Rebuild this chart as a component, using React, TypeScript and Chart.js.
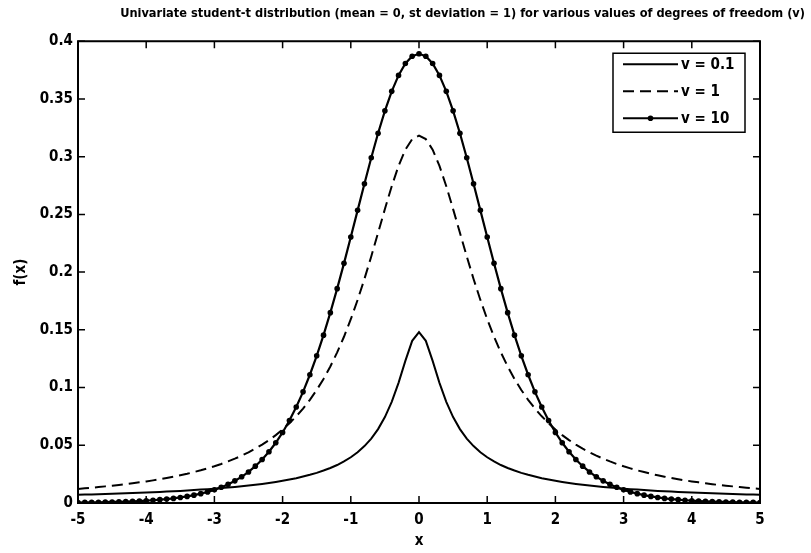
import React, { useEffect, useRef } from "react";
import { Chart, registerables } from "chart.js";

Chart.register(...registerables);

const titleText =
  "Univariate student-t distribution (mean = 0, st deviation = 1) for various values of degrees of freedom (v)";
const xAxisLabel = "x";
const yAxisLabel = "f(x)";
const seriesLabels = ["v = 0.1", "v = 1", "v = 10"];

const xValues = [
  -5, -4.9, -4.8, -4.7, -4.6, -4.5, -4.4, -4.3, -4.2, -4.1,
  -4, -3.9, -3.8, -3.7, -3.6, -3.5, -3.4, -3.3, -3.2, -3.1,
  -3, -2.9, -2.8, -2.7, -2.6, -2.5, -2.4, -2.3, -2.2, -2.1,
  -2, -1.9, -1.8, -1.7, -1.6, -1.5, -1.4, -1.3, -1.2, -1.1,
  -1, -0.9, -0.8, -0.7, -0.6, -0.5, -0.4, -0.3, -0.2, -0.1,
  0,
  0.1, 0.2, 0.3, 0.4, 0.5, 0.6, 0.7, 0.8, 0.9, 1,
  1.1, 1.2, 1.3, 1.4, 1.5, 1.6, 1.7, 1.8, 1.9, 2,
  2.1, 2.2, 2.3, 2.4, 2.5, 2.6, 2.7, 2.8, 2.9, 3,
  3.1, 3.2, 3.3, 3.4, 3.5, 3.6, 3.7, 3.8, 3.9, 4,
  4.1, 4.2, 4.3, 4.4, 4.5, 4.6, 4.7, 4.8, 4.9, 5,
];

const nu01 = [
  0.0071, 0.0073, 0.0074, 0.0076, 0.0078, 0.0080, 0.0082, 0.0084, 0.0086, 0.0088,
  0.0091, 0.0093, 0.0096, 0.0099, 0.0102, 0.0105, 0.0108, 0.0112, 0.0116, 0.0120,
  0.0124, 0.0129, 0.0134, 0.0139, 0.0145, 0.0151, 0.0158, 0.0165, 0.0173, 0.0182,
  0.0192, 0.0203, 0.0215, 0.0229, 0.0244, 0.0261, 0.0281, 0.0303, 0.0329, 0.0360,
  0.0396, 0.0440, 0.0493, 0.0558, 0.0640, 0.0744, 0.0876, 0.1041, 0.1231, 0.1405,
  0.1481,
  0.1405, 0.1231, 0.1041, 0.0876, 0.0744, 0.0640, 0.0558, 0.0493, 0.0440, 0.0396,
  0.0360, 0.0329, 0.0303, 0.0281, 0.0261, 0.0244, 0.0229, 0.0215, 0.0203, 0.0192,
  0.0182, 0.0173, 0.0165, 0.0158, 0.0151, 0.0145, 0.0139, 0.0134, 0.0129, 0.0124,
  0.0120, 0.0116, 0.0112, 0.0108, 0.0105, 0.0102, 0.0099, 0.0096, 0.0093, 0.0091,
  0.0088, 0.0086, 0.0084, 0.0082, 0.0080, 0.0078, 0.0076, 0.0074, 0.0073, 0.0071,
];

const nu1 = [
  0.0122, 0.0127, 0.0132, 0.0138, 0.0144, 0.0150, 0.0156, 0.0163, 0.0171, 0.0179,
  0.0187, 0.0196, 0.0206, 0.0217, 0.0228, 0.0240, 0.0253, 0.0268, 0.0283, 0.0300,
  0.0318, 0.0338, 0.0360, 0.0384, 0.0410, 0.0439, 0.0471, 0.0506, 0.0545, 0.0588,
  0.0637, 0.0691, 0.0751, 0.0818, 0.0894, 0.0979, 0.1075, 0.1183, 0.1305, 0.1440,
  0.1592, 0.1759, 0.1941, 0.2136, 0.2341, 0.2546, 0.2744, 0.2920, 0.3061, 0.3152,
  0.3183,
  0.3152, 0.3061, 0.2920, 0.2744, 0.2546, 0.2341, 0.2136, 0.1941, 0.1759, 0.1592,
  0.1440, 0.1305, 0.1183, 0.1075, 0.0979, 0.0894, 0.0818, 0.0751, 0.0691, 0.0637,
  0.0588, 0.0545, 0.0506, 0.0471, 0.0439, 0.0410, 0.0384, 0.0360, 0.0338, 0.0318,
  0.0300, 0.0283, 0.0268, 0.0253, 0.0240, 0.0228, 0.0217, 0.0206, 0.0196, 0.0187,
  0.0179, 0.0171, 0.0163, 0.0156, 0.0150, 0.0144, 0.0138, 0.0132, 0.0127, 0.0122,
];

const nu10 = [
  0.0004, 0.0005, 0.0005, 0.0006, 0.0008, 0.0009, 0.0010, 0.0012, 0.0015, 0.0017,
  0.0020, 0.0024, 0.0029, 0.0034, 0.0040, 0.0048, 0.0057, 0.0068, 0.0081, 0.0096,
  0.0114, 0.0136, 0.0161, 0.0192, 0.0227, 0.0269, 0.0319, 0.0377, 0.0444, 0.0522,
  0.0611, 0.0714, 0.0831, 0.0963, 0.1111, 0.1275, 0.1454, 0.1649, 0.1857, 0.2076,
  0.2304, 0.2535, 0.2766, 0.2991, 0.3203, 0.3397, 0.3566, 0.3704, 0.3807, 0.3870,
  0.3891,
  0.3870, 0.3807, 0.3704, 0.3566, 0.3397, 0.3203, 0.2991, 0.2766, 0.2535, 0.2304,
  0.2076, 0.1857, 0.1649, 0.1454, 0.1275, 0.1111, 0.0963, 0.0831, 0.0714, 0.0611,
  0.0522, 0.0444, 0.0377, 0.0319, 0.0269, 0.0227, 0.0192, 0.0161, 0.0136, 0.0114,
  0.0096, 0.0081, 0.0068, 0.0057, 0.0048, 0.0040, 0.0034, 0.0029, 0.0024, 0.0020,
  0.0017, 0.0015, 0.0012, 0.0010, 0.0009, 0.0008, 0.0006, 0.0005, 0.0005, 0.0004,
];

const xTickValues = [-5, -4, -3, -2, -1, 0, 1, 2, 3, 4, 5];
const yTickValues = [0, 0.05, 0.1, 0.15, 0.2, 0.25, 0.3, 0.35, 0.4];

const FONT = "'Liberation Sans Narrow', 'DejaVu Sans Condensed', 'Arial Narrow', 'Liberation Sans', Arial, sans-serif";

const toPoints = (ys: number[]) => xValues.map((x, i) => ({ x, y: ys[i] }));

const framePlugin = {
  id: "matlabFrame",
  afterDatasetsDraw(chart: any) {
    const { ctx, chartArea: ca, scales } = chart;
    ctx.save();
    ctx.strokeStyle = "#000";
    ctx.lineWidth = 2;
    ctx.strokeRect(ca.left, ca.top, ca.right - ca.left, ca.bottom - ca.top);
    const tl = 7;
    ctx.lineWidth = 1.5;
    ctx.beginPath();
    xTickValues.forEach((v) => {
      const px = scales.x.getPixelForValue(v);
      ctx.moveTo(px, ca.bottom);
      ctx.lineTo(px, ca.bottom - tl);
      ctx.moveTo(px, ca.top);
      ctx.lineTo(px, ca.top + tl);
    });
    yTickValues.forEach((v) => {
      const py = scales.y.getPixelForValue(v);
      ctx.moveTo(ca.left, py);
      ctx.lineTo(ca.left + tl, py);
      ctx.moveTo(ca.right, py);
      ctx.lineTo(ca.right - tl, py);
    });
    ctx.stroke();
    ctx.restore();
  },
  afterDraw(chart: any) {
    const { ctx, chartArea: ca } = chart;
    const boxW = 132;
    const boxH = 79;
    const left = ca.right - 15 - boxW;
    const top = ca.top + 12;
    ctx.save();
    ctx.fillStyle = "#fff";
    ctx.fillRect(left, top, boxW, boxH);
    ctx.strokeStyle = "#000";
    ctx.lineWidth = 1.5;
    ctx.strokeRect(left, top, boxW, boxH);
    chart.data.datasets.forEach((ds: any, i: number) => {
      const y = top + 11 + i * 27;
      const x0 = left + 10;
      const x1 = left + 65;
      ctx.beginPath();
      ctx.setLineDash(ds.borderDash || []);
      ctx.lineWidth = ds.borderWidth;
      ctx.strokeStyle = ds.borderColor;
      ctx.moveTo(x0, y);
      ctx.lineTo(x1, y);
      ctx.stroke();
      ctx.setLineDash([]);
      if (ds.pointRadius > 0) {
        ctx.beginPath();
        ctx.fillStyle = ds.pointBackgroundColor;
        ctx.arc((x0 + x1) / 2, y, ds.pointRadius, 0, Math.PI * 2);
        ctx.fill();
      }
      ctx.fillStyle = "#000";
      ctx.font = `bold 15px ${FONT}`;
      ctx.textAlign = "left";
      ctx.textBaseline = "middle";
      ctx.fillText(ds.label, x1 + 3, y + 1);
    });
    ctx.restore();
  },
};

export default function App() {
  const canvasRef = useRef<HTMLCanvasElement | null>(null);

  useEffect(() => {
    document.body.style.margin = "0";
    const canvas = canvasRef.current;
    if (!canvas) return;
    const chart = new Chart(canvas, {
      type: "line",
      data: {
        datasets: [
          {
            label: seriesLabels[0],
            data: toPoints(nu01),
            borderColor: "#000",
            backgroundColor: "#000",
            borderWidth: 2,
            pointRadius: 0,
            fill: false,
            tension: 0,
          },
          {
            label: seriesLabels[1],
            data: toPoints(nu1),
            borderColor: "#000",
            backgroundColor: "#000",
            borderWidth: 2,
            borderDash: [11, 6],
            pointRadius: 0,
            fill: false,
            tension: 0,
          },
          {
            label: seriesLabels[2],
            data: toPoints(nu10),
            borderColor: "#000",
            backgroundColor: "#000",
            pointBackgroundColor: "#000",
            pointBorderColor: "#000",
            borderWidth: 2.2,
            pointRadius: 2.8,
            pointBorderWidth: 0,
            fill: false,
            tension: 0,
          },
        ],
      },
      options: {
        responsive: false,
        animation: false,
        layout: { padding: { left: 0, right: 6, top: 0, bottom: 0 } },
        plugins: {
          legend: { display: false },
          tooltip: { enabled: false },
          title: {
            display: true,
            text: titleText,
            align: "end",
            color: "#000",
            font: { family: FONT, size: 12.7, weight: "bold" },
            padding: { top: 6, bottom: 20 },
          },
        },
        scales: {
          x: {
            type: "linear",
            min: -5,
            max: 5,
            afterFit: (s: any) => {
              s.height = 50;
            },
            afterBuildTicks: (s: any) => {
              s.ticks = xTickValues.map((v) => ({ value: v }));
            },
            grid: { display: false, drawTicks: false },
            border: { display: false },
            ticks: {
              color: "#000",
              padding: 8,
              font: { family: FONT, size: 15, weight: "bold" },
              callback: (v: any) => String(v),
            },
            title: {
              display: true,
              text: xAxisLabel,
              color: "#000",
              font: { family: FONT, size: 15, weight: "bold" },
              padding: { top: 0, bottom: 3 },
            },
          },
          y: {
            type: "linear",
            min: 0,
            max: 0.4,
            afterFit: (s: any) => {
              s.width = 78;
            },
            afterBuildTicks: (s: any) => {
              s.ticks = yTickValues.map((v) => ({ value: v }));
            },
            grid: { display: false, drawTicks: false },
            border: { display: false },
            ticks: {
              color: "#000",
              padding: 5,
              font: { family: FONT, size: 15, weight: "bold" },
              callback: (v: any) => String(Number(Number(v).toFixed(2))),
            },
            title: {
              display: true,
              text: yAxisLabel,
              color: "#000",
              font: { family: FONT, size: 15, weight: "bold" },
              padding: { top: 12, bottom: 0 },
            },
          },
          yRight: {
            type: "linear",
            position: "right",
            display: true,
            afterFit: (s: any) => {
              s.width = 45;
            },
            grid: { display: false, drawTicks: false },
            border: { display: false },
            ticks: { display: false },
          },
        },
      },
      plugins: [framePlugin],
    } as any);
    return () => chart.destroy();
  }, []);

  return (
    <div style={{ width: 811, height: 553, background: "#fff" }}>
      <canvas ref={canvasRef} width={811} height={553} style={{ display: "block" }} />
    </div>
  );
}
